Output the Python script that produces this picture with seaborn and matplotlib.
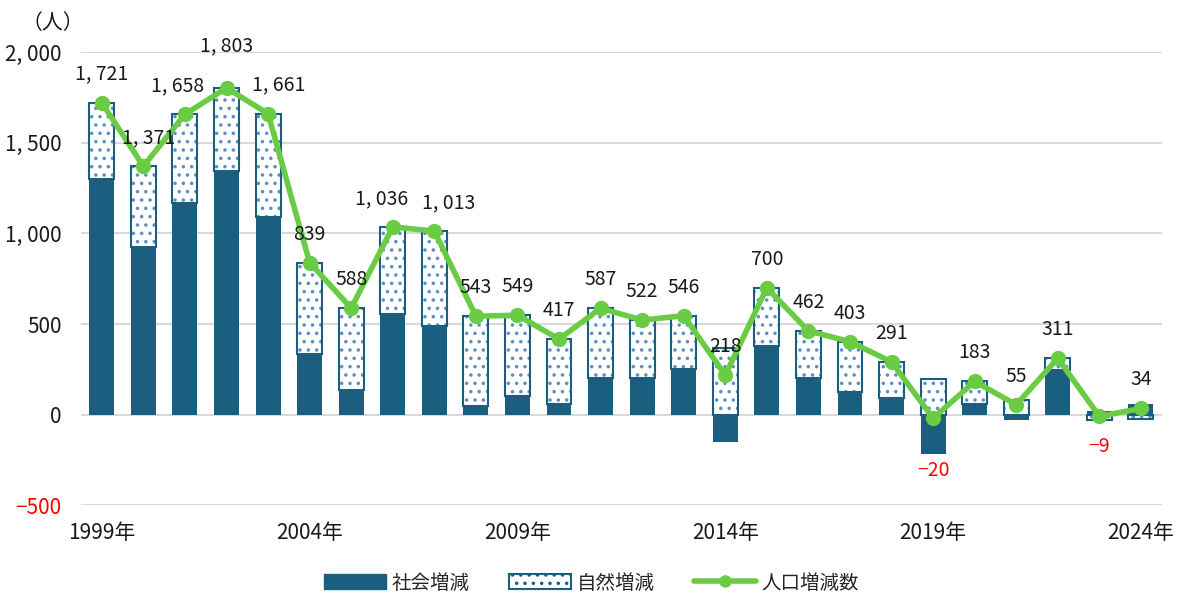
import matplotlib
matplotlib.use("Agg")
import matplotlib.pyplot as plt
from matplotlib.patches import Patch
from matplotlib.lines import Line2D
import numpy as np
import seaborn as sns

# 年（カテゴリ）
years = [f"{y}年" for y in range(1999, 2025)]

# 社会増減・自然増減・人口増減数（人）
social = [1300, 923, 1169, 1345, 1091, 335, 135, 556, 491, 48, 104, 58, 202,
          202, 252, -150, 378, 202, 124, 91, -218, 59, -28, 245, 20, 58]
natural = [421, 448, 489, 458, 570, 504, 453, 480, 522, 495, 445, 359, 385,
           320, 294, 368, 322, 260, 279, 200, 198, 124, 83, 66, -29, -24]
total = [1721, 1371, 1658, 1803, 1661, 839, 588, 1036, 1013, 543, 549, 417, 587,
         522, 546, 218, 700, 462, 403, 291, -20, 183, 55, 311, -9, 34]

tick_years = ["1999年", "2004年", "2009年", "2014年", "2019年", "2024年"]
y_ticks = [-500, 0, 500, 1000, 1500, 2000]

DARK = "#1a5e80"
DOT = "#5a8fc4"
GREEN = "#6acb45"

# 重なり回避のためのラベル位置の微調整（ポイント単位）
nudge = {1: (4, 0), 2: (-5, 0), 3: (0, 10), 4: (8, 0), 7: (-8, 0), 8: (10, 0)}


def fmt(v):
    # 桁区切りの後ろに少し間をあける
    return f"{v:,}".replace(",", ", ").replace("-", "−")


sns.set_theme(style="white")
plt.rcParams["font.family"] = ["Noto Sans CJK JP", "DejaVu Sans"]
plt.rcParams["axes.unicode_minus"] = False
plt.rcParams["hatch.linewidth"] = 1.3

fig = plt.figure(figsize=(11.83, 6.08), dpi=100)
ax = fig.add_axes([0.0685, 0.169, 0.9135, 0.745])

# 積み上げの基準（正は正側、負は負側に積む）
s_arr = np.array(social)
n_arr = np.array(natural)
nat_bottom = np.where(n_arr >= 0, np.maximum(s_arr, 0), np.minimum(s_arr, 0))

# 社会増減
sns.barplot(x=years, y=social, color=DARK, saturation=1, width=0.6, errorbar=None,
            edgecolor=DARK, linewidth=0, ax=ax, zorder=2)
# 自然増減（ドット）
sns.barplot(x=years, y=natural, bottom=nat_bottom, color="white", saturation=1,
            width=0.6, errorbar=None, edgecolor=DOT, hatch="..", linewidth=0,
            ax=ax, zorder=2)
# 自然増減の枠線
sns.barplot(x=years, y=natural, bottom=nat_bottom, color=DARK, saturation=1,
            width=0.6, errorbar=None, fill=False, linewidth=1.5, ax=ax, zorder=2)

# 人口増減数
xpos = np.arange(len(years))
sns.lineplot(x=xpos, y=total, color=GREEN, linewidth=4, marker="o",
             markersize=11, markeredgewidth=0, ax=ax, zorder=5)

# データラベル
for i, v in enumerate(total):
    dx, dy = nudge.get(i, (0, 0))
    if v < 0:
        off = -30 if v < -10 else -14
        ax.annotate(fmt(v), (i, v), xytext=(dx, off + dy), textcoords="offset points",
                    ha="center", va="top", fontsize=14, color="red", zorder=6)
    else:
        ax.annotate(fmt(v), (i, v), xytext=(dx, 13 + dy), textcoords="offset points",
                    ha="center", va="bottom", fontsize=14, color="#1a1a1a", zorder=6)

ax.set_xlim(-0.5, len(years) - 0.5)
ax.set_ylim(-500, 2000)
ax.set_yticks(y_ticks)
ax.set_yticklabels([fmt(t) for t in y_ticks], fontsize=15)
for lab, t in zip(ax.get_yticklabels(), y_ticks):
    lab.set_color("red" if t < 0 else "#1a1a1a")
ax.set_xticks([years.index(t) for t in tick_years])
ax.set_xticklabels(tick_years, fontsize=15, color="#1a1a1a")
ax.tick_params(axis="both", length=0)
ax.tick_params(axis="y", pad=14)
ax.tick_params(axis="x", pad=12)
ax.set_xlabel("")
ax.set_ylabel("")

ax.grid(axis="y", color="#d9d9d9", linewidth=1.5)
ax.set_axisbelow(True)
for sp in ax.spines.values():
    sp.set_visible(False)

fig.text(0.018, 0.962, "（人）", fontsize=15, color="#1a1a1a", va="center")

handles = [
    Patch(facecolor=DARK, edgecolor=DARK),
    Patch(facecolor="white", edgecolor=DARK, hatch="..", linewidth=1.5),
    Line2D([], [], color=GREEN, linewidth=4, marker="o", markersize=8),
]
fig.legend(handles, ["社会増減", "自然増減", "人口増減数"], loc="lower center",
           bbox_to_anchor=(0.5, -0.005), ncol=3, frameon=False, fontsize=14,
           handlelength=3.2, handleheight=0.8, columnspacing=2.0, handletextpad=0.3)

fig.savefig("out.png", dpi=100)
